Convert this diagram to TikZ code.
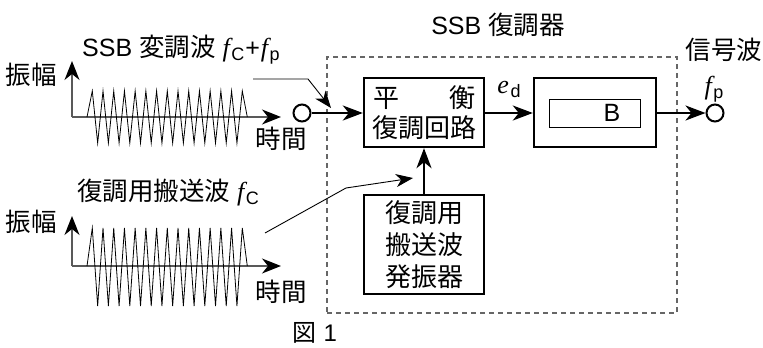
\documentclass[tikz,border=0pt]{standalone}
\usepackage{fontspec}
\setmainfont{Liberation Sans}
\newfontfamily\cjk{Noto Sans CJK JP}
\newfontfamily\tms{Liberation Serif}
\usetikzlibrary{arrows.meta}
\newcommand{\fsym}[1]{{\tms\itshape\fontsize{26}{26}\selectfont f}\kern1.5pt{\fontsize{18}{18}\selectfont\raisebox{-4pt}{#1}}}
\begin{document}
\begin{tikzpicture}[x=1pt,y=-1pt,
  >={Stealth[length=20pt,width=15pt,inset=6pt]},
  lbl/.style={inner sep=0pt,font=\fontsize{25}{30}\selectfont},
  cjklbl/.style={inner sep=0pt,font=\cjk\fontsize{25.5}{30}\selectfont},
  blk/.style={draw,line width=2.4pt,inner sep=0pt,align=center,font=\cjk\fontsize{26}{30}\selectfont},
  axisline/.style={draw=black!65,line width=1.3pt,-{Stealth[length=19pt,width=15pt,inset=6pt,color=black]}},
  wave/.style={line width=0.8pt,line join=miter},
  thinarrow/.style={line width=0.9pt,-{Stealth[length=17pt,width=13pt,inset=5pt]}},
  thickarrow/.style={line width=2.2pt,->},
  port/.style={circle,draw,line width=2pt,minimum size=17pt,inner sep=0pt},
  frame/.style={draw=black!60,line width=1.1pt,dash pattern=on 5pt off 4pt,inner sep=0pt}
]
\useasboundingbox (0,0) rectangle (763,348);

% ---- top waveform ----
\coordinate (ax1o) at (72,117);
\coordinate (ax1y) at (72,61);
\coordinate (ax1x) at (281,117);
\draw[axisline] (ax1o) -- (ax1y);
\draw[axisline] (ax1o) -- (ax1x);
\draw[wave] (87,117) \foreach \k in {0,...,13} { -- ({92.3+10.714*\k},91) -- ({97.66+10.714*\k},143) } -- (242.3,91) -- (247.3,117);
\node[cjklbl] (amp1) at (31,75) {振幅};
\node[cjklbl] (time1) at (281,139) {時間};
\node[lbl,anchor=west] (lab1) at (82,50) {SSB {\cjk\fontsize{25.5}{30}\selectfont 変調波} \fsym{C}\kern1pt+\kern1pt\fsym{p}};

% ---- bottom waveform ----
\coordinate (ax2o) at (72,266);
\coordinate (ax2y) at (72,216);
\coordinate (ax2x) at (281,266);
\draw[axisline] (ax2o) -- (ax2y);
\draw[axisline] (ax2o) -- (ax2x);
\draw[wave] (87,266) \foreach \k in {0,...,13} { -- ({92.3+10.714*\k},228) -- ({97.66+10.714*\k},306) } -- (242.3,228) -- (247.3,266);
\node[cjklbl] (amp2) at (31,222) {振幅};
\node[cjklbl] (time2) at (281,292) {時間};
\node[lbl,anchor=west] (lab2) at (77,193) {{\cjk\fontsize{25.5}{30}\selectfont 復調用搬送波} \fsym{C}};

% ---- demodulator ----
\node[frame,minimum width=350pt,minimum height=256pt] (fr) at (502,185) {};
\node[lbl] (title) at (498,25) {SSB {\cjk\fontsize{25.5}{30}\selectfont 復調器}};
\node[blk,minimum width=120pt,minimum height=69pt] (b1) at (424,112.5)
  {\makebox[102pt]{平\hfill 衡}\\復調回路};
\node[blk,minimum width=122pt,minimum height=69pt] (b2) at (595,112.5) {};
\node[draw,line width=0.9pt,minimum width=91pt,minimum height=28pt,inner sep=0pt] (b2in) at (594.5,113) {};
\node[lbl] (bl) at (612,113) {B};
\node[blk,minimum width=120pt,minimum height=99pt,font=\cjk\fontsize{26}{32}\selectfont] (b3) at (424,244.5)
  {復調用\\搬送波\\発振器};

\node[port] (in1) at (302,113) {};
\node[port] (out) at (715,113) {};

\draw[thickarrow] (in1.east) -- (in1.east -| b1.west);
\draw[thickarrow] (b1.east |- 0,113) -- (b2.west |- 0,113);
\draw[thickarrow] (b2.east |- 0,113) -- (out.west);
\draw[thickarrow] (b3.north) -- (b1.south);

\node[lbl] (ed) at (509,89) {{\tms\itshape\fontsize{26}{26}\selectfont e}\kern1.5pt{\fontsize{18}{18}\selectfont\raisebox{-4pt}{d}}};
\node[lbl] (fp) at (714,89) {\fsym{p}};
\node[cjklbl] (sig) at (724,50) {信号波};

% ---- thin leader arrows ----
\coordinate (t1a) at (253,79);
\coordinate (t1b) at (308,79);
\coordinate (t1c) at (331,108);
\draw[thinarrow] (t1a) -- (t1b) -- (t1c);
\coordinate (t2a) at (265,233);
\coordinate (t2b) at (346,188);
\coordinate (t2c) at (413,178);
\draw[thinarrow] (t2a) -- (t2b) -- (t2c);

\node[lbl,font=\fontsize{24}{28}\selectfont] (fig) at (315,333) {{\cjk 図} 1};
\end{tikzpicture}
\end{document}
